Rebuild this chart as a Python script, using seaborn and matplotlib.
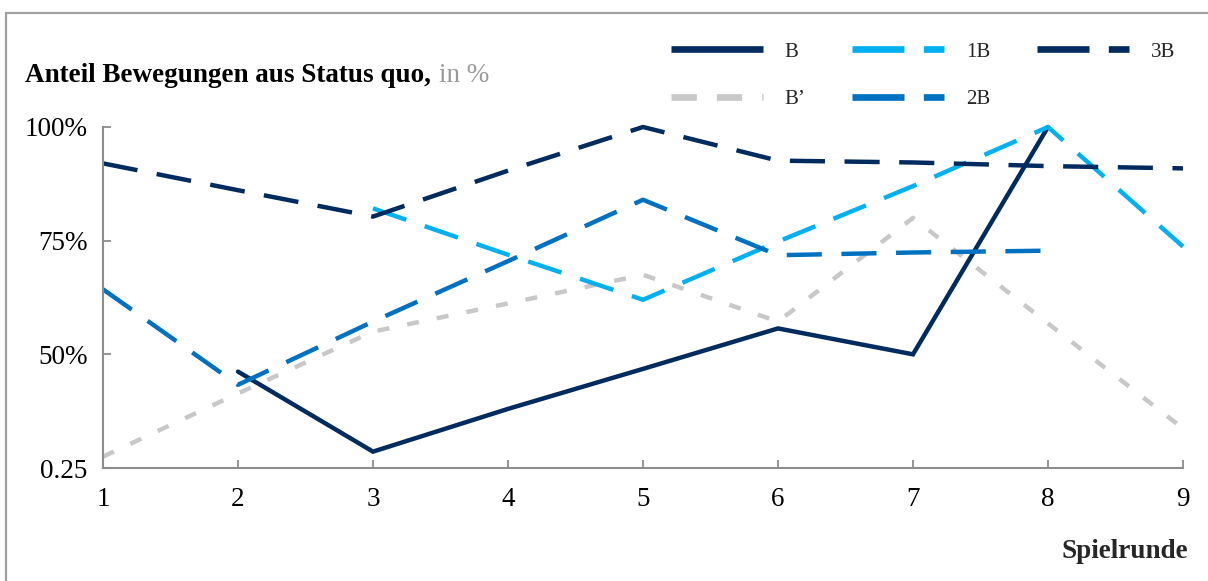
import numpy as np
import pandas as pd
import matplotlib
matplotlib.use("Agg")
import matplotlib.pyplot as plt
from matplotlib.lines import Line2D
from matplotlib.patches import Rectangle
import seaborn as sns

# ---- data ----
rounds = [1, 2, 3, 4, 5, 6, 7, 8, 9]
series_names = ["B", "B’", "1B", "2B", "3B"]
b_vals = [None, 46.2, 28.6, 38.0, 46.8, 55.7, 50.0, 100.0, None]
bp_vals = [27.5, 41.4, 55.0, 61.2, 67.5, 57.2, 80.0, 56.8, 33.7]
b1_vals = [None, None, 82.1, 71.9, 62.0, 74.8, 87.0, 100.0, 73.7]
b2_vals = [64.3, 43.3, 57.2, 70.5, 84.0, 71.8, 72.4, 72.8, None]
b3_vals = [92.0, 86.1, 80.3, 90.4, 100.0, 92.6, 92.2, 91.4, 90.9]
ytick_vals = [25, 50, 75, 100]
ytick_labels = ["0.25", "50%", "75%", "100%"]

colors = {"B": "#002B5E", "B’": "#C8C8C8", "1B": "#00B0F0",
          "2B": "#0070C0", "3B": "#002B5E"}
dashes = {"B": "", "B’": (2.7, 4.1), "1B": (7.9, 4.4),
          "2B": (7.9, 4.4), "3B": (7.9, 4.4)}
legend_dashes = {"B": None, "B’": (3.8, 3.0), "1B": (7.8, 2.9),
                 "2B": (7.8, 2.9), "3B": (7.8, 2.9)}

rows = []
for name, vals in zip(series_names, [b_vals, bp_vals, b1_vals, b2_vals, b3_vals]):
    for r, v in zip(rounds, vals):
        if v is not None:
            rows.append({"Spielrunde": r, "Anteil": v, "Serie": name})
df = pd.DataFrame(rows)

sns.set_theme(style="white")
plt.rcParams["font.family"] = ["Liberation Serif", "DejaVu Serif"]

fig = plt.figure(figsize=(12.08, 5.81), dpi=100)
ax = fig.add_axes([103 / 1208, 1 - 468 / 581, (1183 - 103) / 1208, (468 - 127) / 581])

sns.lineplot(data=df, x="Spielrunde", y="Anteil", hue="Serie", style="Serie",
             hue_order=series_names, style_order=series_names,
             palette=colors, dashes=dashes, lw=3.2, legend=False, ax=ax,
             sort=True)
for ln in ax.get_lines():
    ln.set_clip_on(False)
    ln.set_dash_capstyle("butt")
    ln.set_solid_joinstyle("miter")

ax.set_xlim(1, 9)
ax.set_ylim(25, 100)
ax.set_xticks(rounds)
ax.set_xticklabels([str(r) for r in rounds])
ax.set_yticks(ytick_vals)
ax.set_yticklabels(ytick_labels)
ax.set_xlabel("")
ax.set_ylabel("")
for s in ["top", "right"]:
    ax.spines[s].set_visible(False)
for s in ["left", "bottom"]:
    ax.spines[s].set_color("#8C8C8C")
    ax.spines[s].set_linewidth(1.5)
ax.tick_params(axis="both", direction="in", length=6, width=1.3, color="#8C8C8C",
               labelsize=19.5, labelcolor="black")
ax.tick_params(axis="y", pad=11, left=True)
ax.tick_params(axis="x", pad=14, bottom=True)
ax.set_facecolor("white")

# Legend
handles = []
for n in series_names:
    ls = (0, legend_dashes[n]) if legend_dashes[n] else "-"
    handles.append(Line2D([], [], color=colors[n], lw=4.8, linestyle=ls,
                          dash_capstyle="butt", solid_capstyle="butt"))
leg = fig.legend(handles, series_names, ncol=3, frameon=False,
                 loc="upper left", bbox_to_anchor=(671 / 1208, 1 - 42 / 581),
                 fontsize=15, handlelength=4.4, handletextpad=1.05,
                 columnspacing=2.25, labelspacing=1.35, borderaxespad=0,
                 borderpad=0)

# Title
t1 = fig.text(25 / 1208, 1 - 82 / 581, "Anteil Bewegungen aus Status quo,",
              fontsize=19.5, fontweight="bold", color="black", va="baseline")
fig.canvas.draw()
bb = t1.get_window_extent()
fig.text((bb.x1 + 8) / 1208, 1 - 82 / 581, "in %", fontsize=19.5,
         color="#9A9A9A", va="baseline")

fig.text(1188 / 1208, 1 - 558 / 581, "Spielrunde", fontsize=19.5,
         fontweight="bold", ha="right", va="baseline")

# Frame around chart
fig.patches.append(Rectangle((6 / 1208, -0.05), 1.1, 1 - 13 / 581 + 0.05,
                             transform=fig.transFigure, fill=False,
                             edgecolor="#A0A0A0", lw=1.6))

fig.savefig("out.png", dpi=100, facecolor="white")
